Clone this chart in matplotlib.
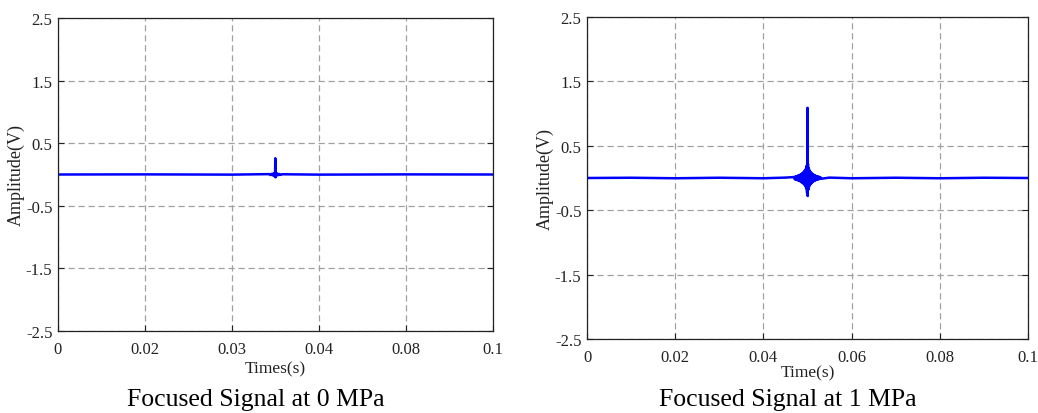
import matplotlib
matplotlib.use("Agg")
import matplotlib.pyplot as plt

plt.rcParams['font.family'] = ['Liberation Serif', 'DejaVu Serif']

# ---------------- data ----------------
# x positions are axis positions (0..0.1); left plot uses uneven tick labels
xticks_pos = [0, 0.02, 0.04, 0.06, 0.08, 0.1]
left_xticklabels = ["0", "0.02", "0.03", "0.04", "0.08", "0.1"]
right_xticklabels = ["0", "0.02", "0.04", "0.06", "0.08", "0.1"]
yticks = [-2.5, -1.5, -0.5, 0.5, 1.5, 2.5]
yticklabels = ["-2.5", "-1.5", "-0.5", "0.5", "1.5", "2.5"]

# left signal (0 MPa): flat baseline with small spike
left_t = [0.0, 0.02, 0.04, 0.0485, 0.0488, 0.0491, 0.0493, 0.0495, 0.0497,
          0.0498, 0.0499, 0.04995, 0.0500, 0.05005, 0.0501, 0.0502, 0.0503,
          0.0505, 0.0507, 0.0509, 0.0512, 0.0515, 0.06, 0.08, 0.1]
left_v = [0.0, 0.002, -0.002, 0.006, -0.008, 0.01, -0.013, 0.016, -0.02,
          0.024, -0.03, 0.26, -0.045, 0.03, -0.024, 0.02, -0.016, 0.013,
          -0.01, 0.008, -0.006, 0.004, -0.002, 0.002, 0.0]

# right signal (1 MPa): baseline noise + oscillating burst
right_t = [0.0, 0.01, 0.02, 0.03, 0.04, 0.045,
           0.0470, 0.0471, 0.0472, 0.0473, 0.0474, 0.0475, 0.0476, 0.0477,
           0.0478, 0.0479, 0.0480, 0.0481, 0.0482, 0.0483, 0.0484, 0.0485,
           0.0486, 0.0487, 0.0488, 0.0489, 0.0490, 0.0491, 0.0492, 0.0493,
           0.0494, 0.0495, 0.0496, 0.0497, 0.0498, 0.0499, 0.04995, 0.0500,
           0.05005, 0.0501, 0.0502, 0.0503, 0.0504, 0.0505, 0.0506, 0.0507,
           0.0508, 0.0509, 0.0510, 0.0511, 0.0512, 0.0513, 0.0514, 0.0515,
           0.0516, 0.0517, 0.0518, 0.0519, 0.0520, 0.0521, 0.0522, 0.0523,
           0.0524, 0.0525, 0.0526, 0.0527, 0.0528, 0.0529, 0.0530,
           0.055, 0.06, 0.07, 0.08, 0.09, 0.1]
right_v = [0.0, 0.004, -0.004, 0.004, -0.004, 0.006,
           0.015, -0.018, 0.020, -0.022, 0.025, -0.027, 0.030, -0.032,
           0.035, -0.038, 0.040, -0.043, 0.046, -0.050, 0.054, -0.058,
           0.062, -0.067, 0.072, -0.078, 0.084, -0.090, 0.098, -0.106,
           0.115, -0.125, 0.140, -0.160, 0.190, -0.230, 0.250, 1.090,
           -0.280, 0.220, -0.180, 0.150, -0.130, 0.115, -0.105, 0.095,
           -0.086, 0.078, -0.071, 0.065, -0.060, 0.055, -0.050, 0.046,
           -0.042, 0.039, -0.036, 0.033, -0.030, 0.028, -0.025, 0.023,
           -0.021, 0.019, -0.017, 0.016, -0.014, 0.013, -0.012,
           0.006, -0.004, 0.004, -0.004, 0.004, 0.0]

# ---------------- figure ----------------
W, H = 1038, 414
fig = plt.figure(figsize=(W / 100, H / 100), dpi=100)


def make_ax(box, t, v, xlabels, xlabel, title, title_x, labelpad):
    l, t_, r, b = box
    ax = fig.add_axes([l / W, 1 - b / H, (r - l) / W, (b - t_) / H])
    ax.plot(t, v, color='#0000ff', linewidth=1.8)
    ax.set_xlim(0, 0.1)
    ax.set_ylim(-2.5, 2.5)
    ax.set_xticks(xticks_pos)
    ax.set_xticklabels(xlabels)
    ax.set_yticks(yticks)
    ax.set_yticklabels(yticklabels)
    ax.grid(True, linestyle=(0, (5, 3)), color='#a0a0a0', linewidth=0.9)
    ax.tick_params(direction='in', length=4, width=0.8, labelsize=12,
                   top=False, right=True, colors='#222222')
    ax.tick_params(axis='x', pad=7)
    ax.tick_params(axis='y', pad=4)
    for s in ax.spines.values():
        s.set_linewidth(0.9)
        s.set_color('#222222')
    ax.set_xlabel(xlabel, fontsize=12.5, labelpad=labelpad, color='#222222')
    ax.set_ylabel("Amplitude(V)", fontsize=13, labelpad=1, color='#222222')
    fig.text(title_x / W, 1 - 400 / H, title, fontsize=18.5, ha='center',
             va='center', color='black')
    return ax


make_ax((58, 19, 493, 332), left_t, left_v, left_xticklabels, "Times(s)",
        "Focused Signal at 0 MPa", 256, 3)
make_ax((587, 18, 1028, 340), right_t, right_v, right_xticklabels, "Time(s)",
        "Focused Signal at 1 MPa", 788, 0)

fig.savefig("out.png", dpi=100)
